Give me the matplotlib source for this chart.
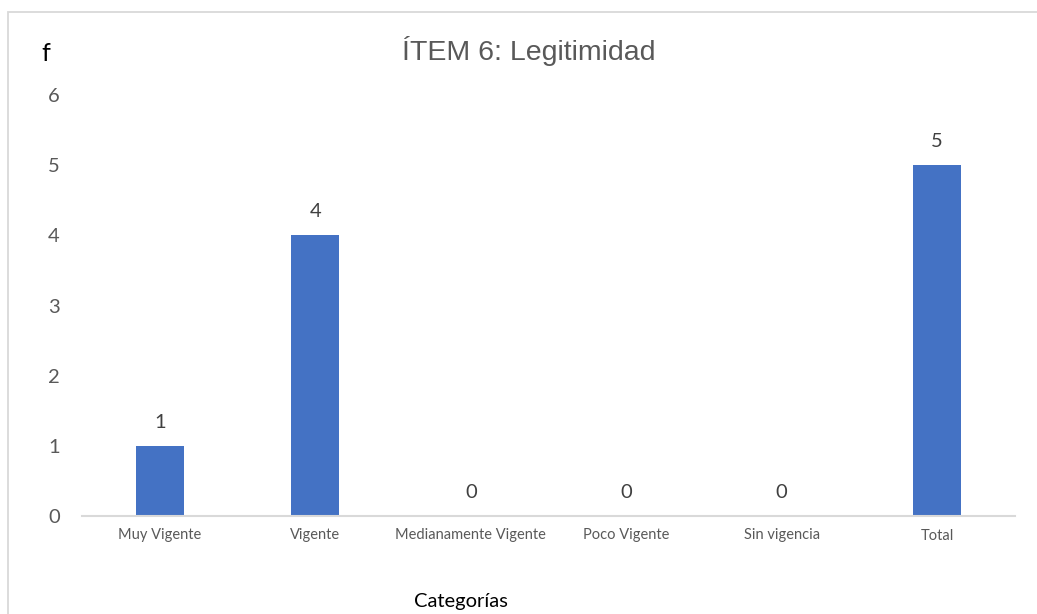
import matplotlib
matplotlib.use("Agg")
import matplotlib.pyplot as plt
from matplotlib.patches import Rectangle

categories = ["Muy Vigente", "Vigente", "Medianamente Vigente", "Poco Vigente", "Sin vigencia", "Total"]
values = [1, 4, 0, 0, 0, 5]
yticks = [0, 1, 2, 3, 4, 5, 6]

W, H = 1037, 614
fig = plt.figure(figsize=(W / 100, H / 100), dpi=100)
fig.patch.set_facecolor("white")

# outer border (chart area frame)
fig.patches.append(Rectangle((8 / W, -0.05), 1.2, 1.05 - 12 / H, transform=fig.transFigure,
                             fill=False, edgecolor="#D9D9D9", linewidth=1.3))

ax = fig.add_axes([82 / W, 1 - 516 / H, (1015 - 82) / W, (516 - 95) / H])
x = list(range(len(categories)))
ax.bar(x, values, width=0.31, color="#4472C4", zorder=2)
ax.set_xlim(-0.5, len(categories) - 0.5)
ax.set_ylim(0, 6)
ax.set_yticks(yticks)
ax.set_yticklabels([str(t) for t in yticks])
ax.set_xticks(x)
ax.set_xticklabels(categories)

for s in ["top", "right", "left"]:
    ax.spines[s].set_visible(False)
ax.spines["bottom"].set_color("#D9D9D9")
ax.spines["bottom"].set_linewidth(1.5)

ax.tick_params(axis="y", length=0, pad=16, labelsize=14.5, labelcolor="#595959")
ax.tick_params(axis="x", length=0, pad=9, labelsize=10.5, labelcolor="#595959")
for lab in ax.get_yticklabels() + ax.get_xticklabels():
    lab.set_family("Lato")

for xi, v in zip(x, values):
    ax.annotate(str(v), (xi, v), xytext=(0, 13), textcoords="offset points",
                ha="center", va="baseline", fontsize=14.5, color="#404040", family="Lato")

fig.text(529 / W, 1 - 60 / H, "ÍTEM 6: Legitimidad", ha="center", va="baseline",
         fontsize=20.5, color="#595959", family="Liberation Sans")
fig.text(41 / W, 1 - 61 / H, "f", ha="left", va="baseline", fontsize=18, color="black", family="Lato")
fig.text(461 / W, 1 - 607 / H, "Categorías", ha="center", va="baseline", fontsize=14.5,
         color="black", family="Lato")

fig.savefig("out.png", dpi=100, facecolor="white")
